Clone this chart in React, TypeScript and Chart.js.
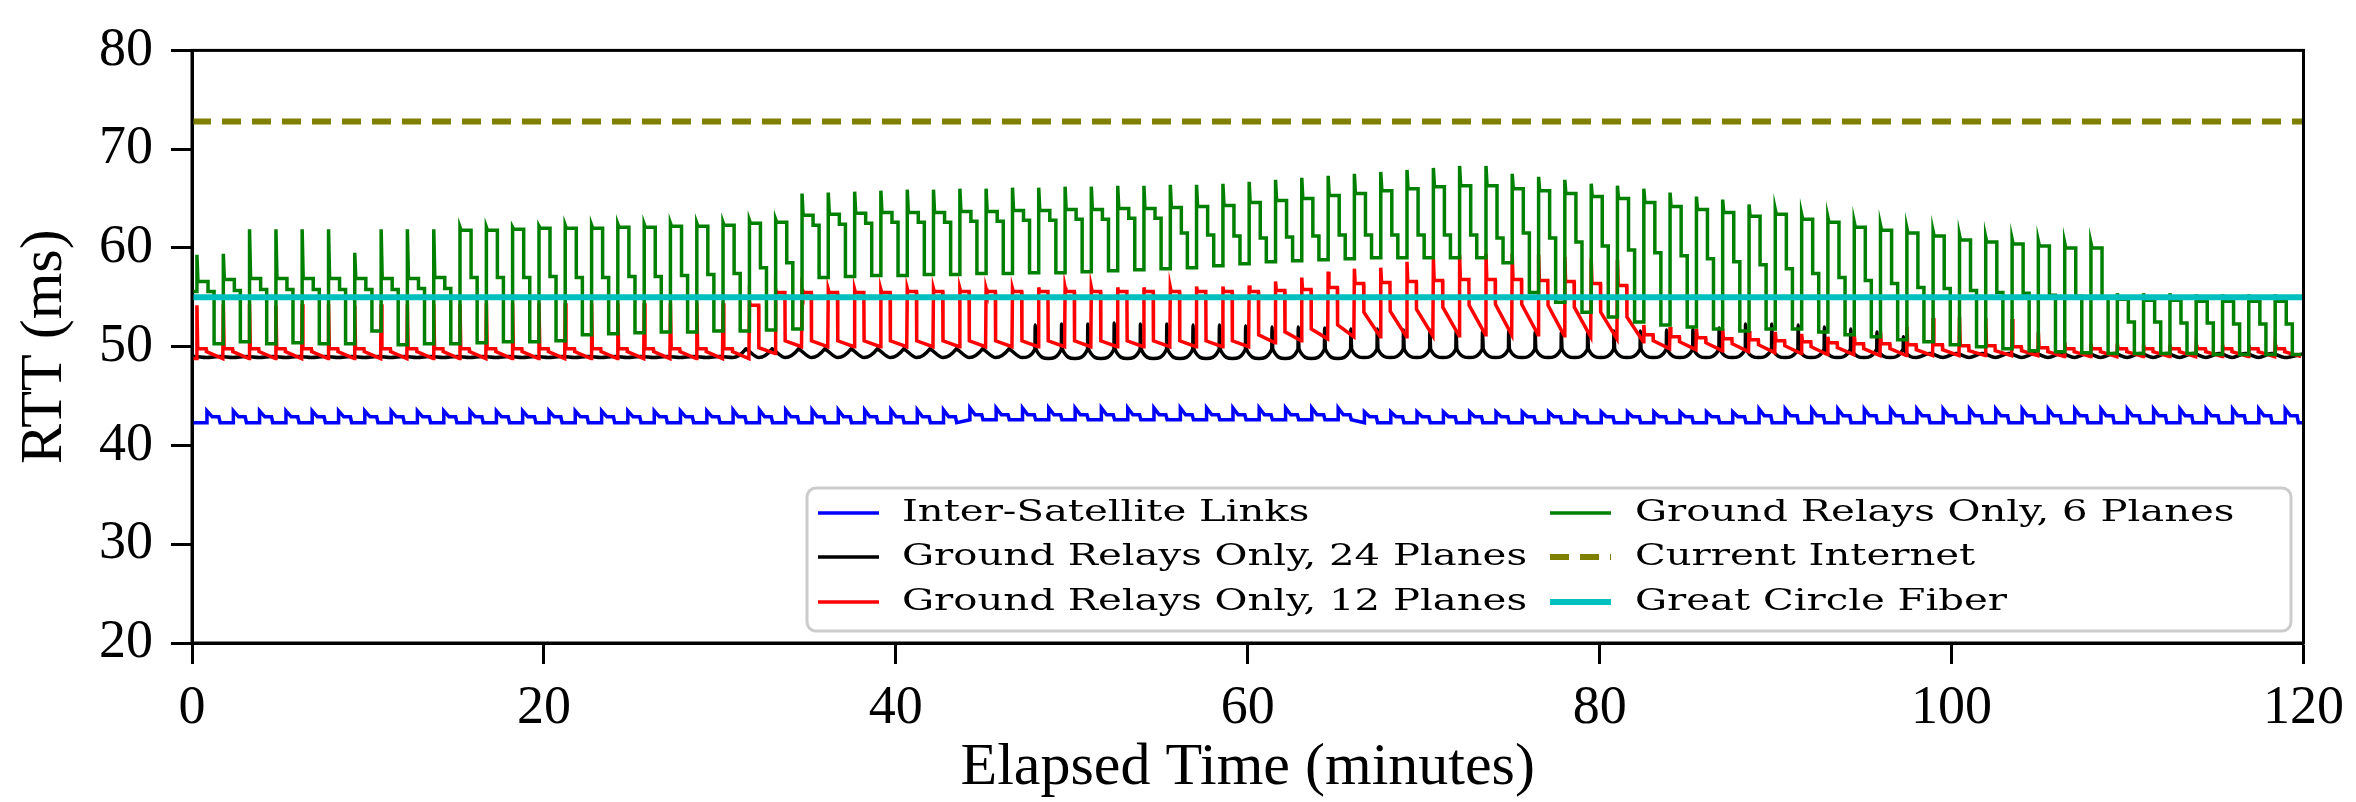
import React, { useEffect, useRef } from "react";
import { Chart, registerables } from "chart.js";

Chart.register(...registerables);

// ---------------- data ----------------
const xTicks = [0, 20, 40, 60, 80, 100, 120];
const yTicks = [20, 30, 40, 50, 60, 70, 80];

const currentInternet = 72.8;
const greatCircleFiber = 55.0;

// start time (minutes) of every handover tooth
const toothTimes = [
  0.28, 1.78, 3.27, 4.77, 6.26, 7.76, 9.25, 10.75, 12.24, 13.74,
  15.23, 16.73, 18.22, 19.72, 21.21, 22.71, 24.2, 25.7, 27.19, 28.69,
  30.18, 31.68, 33.17, 34.67, 36.16, 37.66, 39.15, 40.65, 42.14, 43.64,
  45.13, 46.63, 48.12, 49.62, 51.11, 52.61, 54.1, 55.6, 57.09, 58.59,
  60.08, 61.58, 63.07, 64.57, 66.06, 67.56, 69.05, 70.55, 72.04, 73.54,
  75.03, 76.53, 78.02, 79.52, 81.01, 82.51, 84.0, 85.5, 86.99, 88.49,
  89.98, 91.48, 92.97, 94.47, 95.96, 97.46, 98.95, 100.45, 101.94, 103.44,
  104.93, 106.43, 107.92, 109.42, 110.91, 112.41, 113.9, 115.4, 116.89, 118.39,
];

// Ground Relays Only, 6 Planes (green)
const gPeak = [
  59.3, 59.4, 61.9, 61.9, 61.9, 61.9, 59.5, 61.9, 61.9, 61.9,
  62.1, 62.1, 62.1, 62.2, 62.3, 62.3, 62.4, 62.4, 62.5, 62.5,
  62.6, 62.8, 62.9, 65.5, 65.6, 65.7, 65.8, 65.9, 65.9, 66.0,
  66.0, 66.1, 66.1, 66.2, 66.2, 66.3, 66.3, 66.4, 66.4, 66.5,
  66.7, 66.9, 67.1, 67.3, 67.5, 67.7, 67.9, 68.1, 68.3, 68.3,
  67.5, 67.2, 66.9, 66.5, 66.3, 66.0, 65.6, 65.2, 64.9, 64.4,
  63.9, 63.4, 63.1, 62.6, 62.3, 62.0, 61.7, 61.3, 61.1, 60.9,
  60.7, 60.5, 60.5, 55.4, 55.4, 55.4, 55.3, 55.3, 55.3, 55.3,
];
const gTop = [
  56.6, 56.8, 56.9, 56.9, 56.9, 56.9, 56.9, 56.9, 56.9, 57.0,
  61.8, 61.8, 61.9, 62.0, 62.0, 62.0, 62.1, 62.1, 62.2, 62.2,
  62.3, 62.5, 62.6, 63.3, 63.4, 63.5, 63.6, 63.6, 63.6, 63.7,
  63.7, 63.8, 63.8, 63.9, 63.9, 64.0, 64.0, 64.1, 64.2, 64.3,
  64.6, 64.8, 65.0, 65.3, 65.5, 65.8, 66.0, 66.2, 66.3, 66.3,
  66.0, 65.8, 65.5, 65.2, 65.0, 64.6, 64.2, 63.9, 63.6, 63.2,
  63.4, 62.9, 62.6, 62.1, 61.8, 61.5, 61.2, 60.8, 60.6, 60.4,
  60.2, 60.0, 60.0, 54.8, 54.7, 54.7, 54.6, 54.6, 54.6, 54.6,
];
const gMid = [
  55.6, 55.7, 55.8, 55.8, 55.8, 55.8, 55.8, 55.8, 55.9, 55.9,
  57.0, 57.0, 57.0, 57.1, 57.0, 57.0, 57.1, 57.1, 57.2, 57.3,
  57.4, 58.0, 58.5, 62.3, 62.4, 62.5, 62.6, 62.6, 62.6, 62.7,
  62.7, 62.8, 62.8, 62.9, 62.9, 63.0, 63.0, 61.5, 61.3, 61.2,
  61.0, 61.1, 61.2, 61.3, 61.3, 61.3, 61.3, 61.3, 61.3, 61.0,
  61.5, 61.0, 60.6, 60.2, 59.8, 59.5, 59.2, 58.9, 58.6, 58.3,
  57.9, 57.4, 57.0, 56.7, 56.4, 56.0, 55.9, 55.7, 55.5, 55.4,
  55.2, 55.1, 55.0, 52.5, 52.5, 52.4, 52.4, 52.3, 52.3, 52.3,
];
const gLow = [
  50.3, 50.5, 50.3, 50.4, 50.3, 50.3, 51.6, 50.2, 50.3, 50.3,
  50.4, 50.5, 50.5, 50.6, 51.2, 51.3, 51.4, 51.5, 51.5, 51.6,
  51.6, 51.7, 51.8, 57.0, 57.1, 57.2, 57.2, 57.3, 57.3, 57.4,
  57.4, 57.5, 57.5, 57.6, 57.7, 57.8, 57.9, 58.0, 58.2, 58.4,
  58.6, 58.7, 58.8, 58.9, 59.0, 59.0, 59.0, 59.0, 59.0, 58.5,
  55.5, 54.5, 53.5, 53.0, 52.5, 52.2, 52.0, 51.8, 51.6, 51.8,
  51.8, 51.5, 51.2, 51.0, 50.7, 50.5, 50.2, 50.0, 49.8, 49.6,
  49.5, 49.4, 49.3, 49.3, 49.3, 49.3, 49.2, 49.2, 49.2, 49.2,
];

// Ground Relays Only, 12 Planes (red)
const rSpike = [
  54.2, 54.3, 54.3, 54.2, 54.3, 54.3, 54.2, 54.3, 54.3, 54.3,
  54.3, 54.4, 54.4, 54.4, 54.4, 54.4, 54.4, 54.4, 54.4, 54.4,
  54.4, 54.6, 55.8, 55.8, 55.8, 55.8, 55.8, 55.9, 55.9, 55.9,
  55.9, 55.9, 56.0, 56.0, 56.0, 56.0, 56.0, 56.0, 56.1, 56.1,
  56.2, 56.6, 57.0, 57.6, 57.9, 58.0, 58.6, 58.9, 59.3, 59.4,
  59.4, 59.3, 59.1, 58.9, 58.8, 52.2, 52.0, 51.8, 51.8, 51.6,
  51.5, 51.3, 51.0, 51.2, 51.5, 52.0, 52.9, 53.0, 52.9, 52.8,
  51.5, 50.4, 50.3, 50.3, 50.2, 50.2, 50.2, 50.2, 50.2, 50.2,
];
const rTop = [
  49.8, 49.8, 49.8, 49.8, 49.8, 49.8, 49.8, 49.8, 49.8, 49.8,
  49.8, 49.8, 49.8, 49.8, 49.8, 49.8, 49.8, 49.8, 49.8, 49.8,
  49.8, 54.2, 55.5, 55.5, 55.5, 55.5, 55.5, 55.6, 55.6, 55.6,
  55.6, 55.6, 55.6, 55.6, 55.6, 55.6, 55.6, 55.6, 55.6, 55.6,
  55.6, 55.7, 55.8, 56.0, 56.4, 56.5, 56.6, 56.7, 56.8, 56.8,
  56.8, 56.7, 56.6, 56.4, 56.2, 51.2, 51.0, 50.9, 50.8, 50.7,
  50.6, 50.5, 50.4, 50.3, 50.3, 50.2, 50.2, 50.1, 50.1, 50.0,
  49.9, 49.8, 49.8, 49.8, 49.8, 49.8, 49.8, 49.8, 49.8, 49.8,
];
const rMid = [
  49.5, 49.5, 49.5, 49.5, 49.5, 49.5, 49.5, 49.5, 49.5, 49.5,
  49.5, 49.5, 49.5, 49.5, 49.5, 49.5, 49.5, 49.5, 49.5, 49.5,
  49.5, 49.9, 50.6, 50.6, 50.6, 50.6, 50.6, 50.6, 50.6, 50.6,
  50.6, 50.6, 50.6, 50.6, 50.6, 50.6, 50.6, 50.6, 50.6, 50.6,
  51.2, 51.5, 51.8, 52.2, 53.5, 53.6, 53.8, 54.0, 54.2, 54.3,
  54.3, 54.2, 54.0, 53.5, 53.0, 50.6, 50.5, 50.4, 50.3, 50.2,
  50.1, 50.0, 49.9, 49.8, 49.8, 49.7, 49.7, 49.6, 49.6, 49.6,
  49.5, 49.5, 49.5, 49.5, 49.5, 49.5, 49.5, 49.5, 49.5, 49.5,
];
const rLow = [
  48.8, 48.8, 48.8, 48.8, 48.8, 48.8, 48.8, 48.8, 48.8, 48.8,
  48.8, 48.8, 48.8, 48.8, 48.8, 48.8, 48.8, 48.8, 48.8, 48.8,
  48.8, 49.3, 50.0, 50.0, 50.0, 50.0, 50.0, 50.0, 50.0, 50.0,
  50.0, 50.0, 50.0, 50.0, 50.0, 50.0, 50.0, 50.0, 50.0, 50.0,
  50.4, 50.6, 50.8, 51.0, 51.0, 51.0, 51.1, 51.1, 51.2, 51.2,
  51.2, 51.1, 51.0, 50.8, 50.5, 49.8, 49.7, 49.6, 49.5, 49.4,
  49.3, 49.2, 49.2, 49.1, 49.1, 49.1, 49.1, 49.1, 49.1, 49.1,
  49.0, 49.0, 49.0, 49.0, 49.0, 49.0, 49.0, 49.0, 49.0, 49.0,
];

// Ground Relays Only, 24 Planes (black)
const bSpike = [
  49.0, 49.0, 49.0, 49.0, 49.0, 49.0, 49.0, 49.0, 49.0, 49.0,
  49.0, 49.0, 49.0, 49.0, 49.0, 49.0, 49.0, 49.0, 49.0, 49.0,
  49.0, 49.8, 49.8, 49.8, 49.8, 49.8, 49.8, 49.8, 49.8, 49.8,
  49.8, 49.8, 52.2, 52.3, 52.3, 52.4, 52.3, 52.3, 52.2, 52.2,
  52.1, 52.0, 52.0, 51.9, 51.8, 51.8, 51.7, 51.7, 51.6, 51.6,
  51.6, 51.5, 51.5, 51.5, 51.6, 51.6, 51.7, 51.8, 51.9, 52.3,
  52.3, 52.2, 52.0, 51.8, 51.5, 51.0, 49.3, 49.3, 49.3, 49.3,
  49.3, 49.3, 49.3, 49.3, 49.3, 49.3, 49.3, 49.3, 49.3, 49.3,
];
const bCrest = [
  49.0, 49.0, 49.0, 49.0, 49.0, 49.0, 49.0, 49.0, 49.0, 49.0,
  49.0, 49.0, 49.0, 49.0, 49.0, 49.0, 49.0, 49.0, 49.0, 49.0,
  49.0, 49.75, 49.75, 49.75, 49.75, 49.75, 49.75, 49.75, 49.75, 49.75,
  49.75, 49.75, 49.75, 49.75, 49.75, 49.75, 49.75, 49.75, 49.75, 49.75,
  49.75, 49.75, 49.75, 49.75, 49.75, 49.75, 49.75, 49.75, 49.75, 49.75,
  49.75, 49.75, 49.75, 49.75, 49.75, 49.75, 49.75, 49.75, 49.75, 49.75,
  49.75, 49.75, 49.75, 49.75, 49.75, 49.75, 49.3, 49.3, 49.3, 49.3,
  49.3, 49.3, 49.3, 49.3, 49.3, 49.3, 49.3, 49.3, 49.3, 49.3,
];
const bLow = [
  48.9, 48.9, 48.9, 48.9, 48.9, 48.9, 48.9, 48.9, 48.9, 48.9,
  48.9, 48.9, 48.9, 48.9, 48.9, 48.9, 48.9, 48.9, 48.9, 48.9,
  48.9, 48.9, 48.9, 48.9, 48.9, 48.9, 48.9, 48.9, 48.9, 48.9,
  48.9, 48.9, 48.8, 48.8, 48.8, 48.8, 48.8, 48.8, 48.8, 48.8,
  48.8, 48.8, 48.8, 48.8, 48.9, 48.9, 48.9, 48.9, 48.9, 48.9,
  48.9, 48.9, 48.9, 48.9, 48.9, 48.9, 48.9, 48.9, 48.9, 48.9,
  48.9, 48.9, 48.9, 48.9, 48.9, 48.9, 48.9, 48.9, 48.9, 48.9,
  48.9, 48.9, 48.9, 48.9, 48.9, 48.9, 48.9, 48.9, 48.9, 48.9,
];

// Inter-Satellite Links (blue)
const uPeak = [
  43.5, 43.5, 43.5, 43.5, 43.5, 43.5, 43.5, 43.5, 43.5, 43.5,
  43.5, 43.5, 43.5, 43.5, 43.5, 43.5, 43.5, 43.5, 43.5, 43.5,
  43.6, 43.6, 43.6, 43.6, 43.6, 43.6, 43.6, 43.6, 43.6, 43.8,
  43.8, 43.8, 43.8, 43.8, 43.8, 43.8, 43.8, 43.8, 43.8, 43.8,
  43.8, 43.8, 43.8, 43.8, 43.4, 43.4, 43.4, 43.4, 43.4, 43.4,
  43.4, 43.4, 43.4, 43.4, 43.4, 43.4, 43.4, 43.4, 43.4, 43.7,
  43.7, 43.7, 43.7, 43.7, 43.7, 43.7, 43.7, 43.7, 43.7, 43.7,
  43.7, 43.7, 43.7, 43.7, 43.7, 43.7, 43.7, 43.7, 43.7, 43.7,
];
const uMid = [
  42.9, 42.9, 42.9, 42.9, 42.9, 42.9, 42.9, 42.9, 42.9, 42.9,
  42.9, 42.9, 42.9, 42.9, 42.9, 42.9, 42.9, 42.9, 42.9, 42.9,
  42.9, 42.9, 42.9, 42.9, 42.9, 42.9, 42.9, 42.9, 42.9, 43.1,
  43.1, 43.1, 43.1, 43.1, 43.1, 43.1, 43.1, 43.1, 43.1, 43.1,
  43.1, 43.1, 43.1, 43.1, 42.9, 42.9, 42.9, 42.9, 42.9, 42.9,
  42.9, 42.9, 42.9, 42.9, 42.9, 42.9, 42.9, 42.9, 42.9, 43.0,
  43.0, 43.0, 43.0, 43.0, 43.0, 43.0, 43.0, 43.0, 43.0, 43.0,
  43.0, 43.0, 43.0, 43.0, 43.0, 43.0, 43.0, 43.0, 43.0, 43.0,
];
const uBase = [
  42.3, 42.3, 42.3, 42.3, 42.3, 42.3, 42.3, 42.3, 42.3, 42.3,
  42.3, 42.3, 42.3, 42.3, 42.3, 42.3, 42.3, 42.3, 42.3, 42.3,
  42.3, 42.3, 42.3, 42.3, 42.3, 42.3, 42.3, 42.3, 42.3, 42.6,
  42.6, 42.6, 42.6, 42.6, 42.6, 42.6, 42.6, 42.6, 42.6, 42.6,
  42.6, 42.6, 42.6, 42.6, 42.3, 42.3, 42.3, 42.3, 42.3, 42.3,
  42.3, 42.3, 42.3, 42.3, 42.3, 42.3, 42.3, 42.3, 42.3, 42.3,
  42.3, 42.3, 42.3, 42.3, 42.3, 42.3, 42.3, 42.3, 42.3, 42.3,
  42.3, 42.3, 42.3, 42.3, 42.3, 42.3, 42.3, 42.3, 42.3, 42.3,
];

const seriesLabels = [
  "Inter-Satellite Links",
  "Ground Relays Only, 24 Planes",
  "Ground Relays Only, 12 Planes",
  "Ground Relays Only, 6 Planes",
  "Current Internet",
  "Great Circle Fiber",
];

// ---------------- building the line vertices ----------------
type Pt = { x: number; y: number };

function period(k: number): number {
  const n = toothTimes.length;
  return k < n - 1 ? toothTimes[k + 1] - toothTimes[k] : toothTimes[k] - toothTimes[k - 1];
}

function buildGreen(): Pt[] {
  const pts: Pt[] = [{ x: 0, y: gMid[0] }, { x: toothTimes[0], y: gMid[0] }];
  for (let k = 0; k < toothTimes.length; k++) {
    const t = toothTimes[k];
    const T = period(k);
    pts.push(
      { x: t, y: gPeak[k] },
      { x: t + 0.04 * T, y: gTop[k] },
      { x: t + 0.42 * T, y: gTop[k] },
      { x: t + 0.42 * T, y: gMid[k] },
      { x: t + 0.65 * T, y: gMid[k] },
      { x: t + 0.65 * T, y: gLow[k] },
      { x: t + T, y: gLow[k] }
    );
  }
  return pts;
}

function buildRed(): Pt[] {
  const pts: Pt[] = [{ x: 0, y: rLow[0] }, { x: toothTimes[0], y: rLow[0] }];
  for (let k = 0; k < toothTimes.length; k++) {
    const t = toothTimes[k];
    const T = period(k);
    pts.push(
      { x: t, y: rSpike[k] },
      { x: t + 0.03 * T, y: rTop[k] },
      { x: t + 0.35 * T, y: rTop[k] },
      { x: t + 0.36 * T, y: rMid[k] },
      { x: t + 0.98 * T, y: rLow[k] }
    );
  }
  return pts;
}

function buildBlack(): Pt[] {
  const pts: Pt[] = [{ x: 0, y: bCrest[0] }];
  for (let k = 0; k < toothTimes.length; k++) {
    const T = period(k);
    const t = toothTimes[k] - 0.2;
    pts.push(
      { x: t - 0.01 * T, y: bCrest[k] },
      { x: t, y: bSpike[k] },
      { x: t + 0.03 * T, y: bCrest[k] },
      { x: t + 0.5 * T, y: bLow[k] }
    );
  }
  pts.push({ x: 120, y: bCrest[bCrest.length - 1] });
  return pts;
}

function buildBlue(): Pt[] {
  const pts: Pt[] = [{ x: 0, y: uBase[0] }];
  for (let k = 0; k < toothTimes.length; k++) {
    const T = period(k);
    const t = toothTimes[k] + 0.57;
    pts.push(
      { x: t, y: uBase[k] },
      { x: t, y: uPeak[k] },
      { x: t + 0.2 * T, y: uMid[k] },
      { x: t + 0.45 * T, y: uMid[k] },
      { x: t + 0.5 * T, y: uBase[k] }
    );
  }
  pts.push({ x: 120, y: uBase[uBase.length - 1] });
  return pts;
}

const SERIF = "'Liberation Serif', 'Times New Roman', serif";
const LEGEND_FONT = "'DejaVu Serif', serif";

const legendPlugin = {
  id: "twoColLegend",
  afterDatasetsDraw(chart: any) {
    const ctx = chart.ctx as CanvasRenderingContext2D;
    const ds = chart.data.datasets;
    ctx.save();
    const bx = 807, by = 488, bw = 1484, bh = 143;
    ctx.beginPath();
    (ctx as any).roundRect(bx, by, bw, bh, 9);
    ctx.fillStyle = "rgba(255,255,255,0.85)";
    ctx.fill();
    ctx.lineWidth = 3;
    ctx.strokeStyle = "#cccccc";
    ctx.stroke();

    ctx.font = `30px ${LEGEND_FONT}`;
    const ref = ctx.measureText(seriesLabels[1]).width;
    const sx = 625 / ref;
    const cols = [
      { hx: 818, tx: 902, idx: [0, 1, 2] },
      { hx: 1550, tx: 1635, idx: [3, 4, 5] },
    ];
    const rows = [513, 557, 602];
    cols.forEach((c) => {
      c.idx.forEach((di, r) => {
        const d = ds[di];
        const y = rows[r];
        ctx.save();
        ctx.beginPath();
        ctx.strokeStyle = d.borderColor;
        ctx.lineWidth = d.borderWidth;
        ctx.setLineDash(d.borderDash || []);
        ctx.moveTo(c.hx, y);
        ctx.lineTo(c.hx + 61, y);
        ctx.stroke();
        ctx.restore();
        ctx.save();
        ctx.translate(c.tx, y);
        ctx.scale(sx, 1);
        ctx.fillStyle = "#000";
        ctx.textBaseline = "middle";
        ctx.textAlign = "left";
        ctx.font = `30px ${LEGEND_FONT}`;
        ctx.fillText(d.label, 0, 0);
        ctx.restore();
      });
    });
    ctx.restore();
  },
  afterDraw(chart: any) {
    const { left, top, right, bottom } = chart.chartArea;
    const ctx = chart.ctx as CanvasRenderingContext2D;
    ctx.save();
    ctx.strokeStyle = "#000";
    ctx.lineWidth = 3;
    ctx.strokeRect(left, top, right - left, bottom - top);
    ctx.restore();
  },
};

const LW = 3.5;

export default function App() {
  const ref = useRef<HTMLCanvasElement | null>(null);
  useEffect(() => {
    if (!ref.current) return;
    const chart = new Chart(ref.current, {
      type: "line",
      data: {
        datasets: [
          { label: seriesLabels[0], data: buildBlue(), borderColor: "#0000ff", borderWidth: LW, order: 5 },
          { label: seriesLabels[1], data: buildBlack(), borderColor: "#000000", borderWidth: LW, order: 4, cubicInterpolationMode: "monotone" },
          { label: seriesLabels[2], data: buildRed(), borderColor: "#ff0000", borderWidth: LW, order: 3 },
          { label: seriesLabels[3], data: buildGreen(), borderColor: "#008000", borderWidth: LW, order: 2 },
          {
            label: seriesLabels[4],
            data: [{ x: xTicks[0], y: currentInternet }, { x: xTicks[xTicks.length - 1], y: currentInternet }],
            borderColor: "#808000", borderWidth: 6, borderDash: [19, 11], borderCapStyle: "butt", order: 1,
          },
          {
            label: seriesLabels[5],
            data: [{ x: xTicks[0], y: greatCircleFiber }, { x: xTicks[xTicks.length - 1], y: greatCircleFiber }],
            borderColor: "#00bfbf", borderWidth: 6, order: 0,
          },
        ] as any,
      },
      options: {
        animation: false,
        responsive: false,
        devicePixelRatio: 1,
        events: [],
        layout: { padding: { top: 34, right: 51, left: 0, bottom: 0 } },
        elements: { point: { radius: 0 }, line: { tension: 0, fill: false } },
        plugins: { legend: { display: false }, tooltip: { enabled: false } },
        scales: {
          x: {
            type: "linear",
            min: xTicks[0],
            max: xTicks[xTicks.length - 1],
            afterFit: (s: any) => { s.height = 159; },
            afterBuildTicks: (s: any) => { s.ticks = xTicks.map((v) => ({ value: v })); },
            ticks: { color: "#000", padding: 12, maxRotation: 0, autoSkip: false, font: { family: SERIF, size: 54, lineHeight: 1.2 } },
            grid: { drawOnChartArea: false, drawTicks: true, tickLength: 21, tickWidth: 3, tickColor: "#000" },
            border: { display: true, width: 3, color: "#000" },
            title: { display: true, text: "Elapsed Time (minutes)", color: "#000", font: { family: SERIF, size: 60, lineHeight: 1.0 }, padding: { top: 0, bottom: 4 } },
          },
          y: {
            type: "linear",
            min: yTicks[0],
            max: yTicks[yTicks.length - 1],
            afterFit: (s: any) => { s.width = 192; },
            afterBuildTicks: (s: any) => { s.ticks = yTicks.map((v) => ({ value: v })); },
            ticks: { color: "#000", padding: 18, autoSkip: false, font: { family: SERIF, size: 54, lineHeight: 1.2 } },
            grid: { drawOnChartArea: false, drawTicks: true, tickLength: 21, tickWidth: 3, tickColor: "#000" },
            border: { display: true, width: 3, color: "#000" },
            title: { display: true, text: "RTT (ms)", color: "#000", font: { family: SERIF, size: 60, lineHeight: 1.0 }, padding: { top: 15, bottom: 0 } },
          },
        },
      } as any,
      plugins: [legendPlugin],
    });
    return () => chart.destroy();
  }, []);

  return (
    <div style={{ position: "fixed", left: 0, top: 0, width: 2356, height: 802, background: "#fff" }}>
      <canvas ref={ref} width={2356} height={802} style={{ display: "block" }} />
    </div>
  );
}
